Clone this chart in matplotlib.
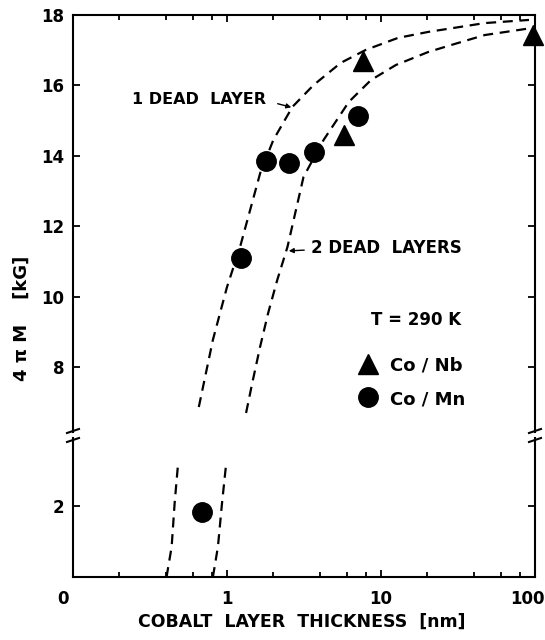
import matplotlib
matplotlib.use("Agg")
import matplotlib.pyplot as plt
import matplotlib.transforms as mtransforms
from matplotlib.lines import Line2D
from matplotlib.patches import FancyArrowPatch
from matplotlib.ticker import FixedLocator, NullFormatter

plt.rcParams['font.family'] = ['DejaVu Sans']
plt.rcParams['font.weight'] = 'bold'

# ---- data ----
mn_x = [0.687, 1.23, 1.80, 2.54, 3.65, 7.08]
mn_y = [1.83, 11.10, 13.85, 13.80, 14.11, 15.13]

nb_x = [5.73, 7.6, 97.0]
nb_y = [14.60, 16.70, 17.42]

# "1 dead layer" curve: lower-section and upper-section pieces
c1_lo_x = [0.405, 0.437, 0.457, 0.479]
c1_lo_y = [0.0, 0.85, 2.08, 3.10]
c1_up_x = [0.656, 0.810, 1.0, 1.216, 1.643, 2.0, 2.66, 3.65, 5.48, 7.98, 12.9,
           20.3, 47.1, 91.4]
c1_up_y = [6.86, 8.77, 10.27, 11.41, 13.51, 14.45, 15.39, 16.01, 16.64, 17.01,
           17.35, 17.52, 17.77, 17.86]
# "2 dead layers" curve
c2_lo_x = [0.810, 0.873, 0.928, 0.985]
c2_lo_y = [0.0, 0.85, 2.08, 3.15]
c2_up_x = [1.33, 1.46, 1.64, 1.85, 2.12, 2.47, 3.14, 4.24, 6.18, 8.60, 12.5,
           20.3, 28.7, 47.1, 95.5]
c2_up_y = [6.69, 7.55, 8.57, 9.53, 10.47, 11.41, 13.40, 14.45, 15.53, 16.15,
           16.58, 16.95, 17.15, 17.43, 17.63]

upper_yticks = [8, 10, 12, 14, 16, 18]
lower_yticks = [2]
x_major = [0.1, 1, 10, 100]
x_labels = ['0', '1', '10', '100']
x_minor = [0.2, 0.4, 0.6, 0.8, 2, 4, 6, 8, 20, 40, 60, 80]

W, H = 545, 640
fig = plt.figure(figsize=(W / 100, H / 100), dpi=100)

def fx(px):
    return px / W

def fy(py):
    return 1 - py / H

left, right = 73, 535
ax_up = fig.add_axes([fx(left), fy(432), fx(right) - fx(left), fy(15) - fy(432)])
ax_lo = fig.add_axes([fx(left), fy(577), fx(right) - fx(left), fy(438) - fy(577)])

Y_UP = (6.15, 18.0)
Y_LO = (0.0, 3.92)

dash = dict(color='black', lw=1.6, ls=(0, (4.5, 3)))

ax_up.plot(c1_up_x, c1_up_y, **dash)
ax_up.plot(c2_up_x, c2_up_y, **dash)
ax_lo.plot(c1_lo_x, c1_lo_y, **dash)
ax_lo.plot(c2_lo_x, c2_lo_y, **dash)

mn_up = [(x, y) for x, y in zip(mn_x, mn_y) if y > Y_UP[0]]
mn_lo = [(x, y) for x, y in zip(mn_x, mn_y) if y < Y_LO[1]]
ax_up.plot([p[0] for p in mn_up], [p[1] for p in mn_up], 'o', color='black', ms=14, ls='none')
ax_lo.plot([p[0] for p in mn_lo], [p[1] for p in mn_lo], 'o', color='black', ms=14, ls='none')
ax_up.plot(nb_x, nb_y, '^', color='black', ms=15, ls='none', clip_on=False)

for ax, lim in ((ax_up, Y_UP), (ax_lo, Y_LO)):
    ax.set_xscale('log')
    ax.set_xlim(0.1, 100)
    ax.set_ylim(*lim)
    for s in ax.spines.values():
        s.set_linewidth(1.5)
    ax.xaxis.set_major_locator(FixedLocator(x_major))
    ax.xaxis.set_minor_locator(FixedLocator(x_minor))
    ax.xaxis.set_minor_formatter(NullFormatter())
    ax.tick_params(which='both', direction='in', width=1.3)
    ax.tick_params(which='major', length=5)
    ax.tick_params(which='minor', length=3.5)

ax_up.spines['bottom'].set_visible(False)
ax_lo.spines['top'].set_visible(False)

ax_up.set_yticks(upper_yticks)
ax_up.set_yticklabels([str(v) for v in upper_yticks])
ax_up.tick_params(axis='x', which='both', bottom=False, top=True, labelbottom=False)
ax_up.tick_params(axis='y', left=True, right=True, labelsize=12, pad=6)

ax_lo.set_yticks(lower_yticks)
ax_lo.set_yticklabels([str(v) for v in lower_yticks])
ax_lo.tick_params(axis='y', left=True, right=True, labelsize=12, pad=6)
ax_lo.tick_params(axis='x', which='both', bottom=True, top=False, labelsize=12, pad=9)
ax_lo.set_xticklabels(x_labels)
lbls = ax_lo.get_xticklabels()
lbls[0].set_transform(lbls[0].get_transform() +
                      mtransforms.ScaledTranslation(-10 / 100, 0, fig.dpi_scale_trans))
lbls[-1].set_transform(lbls[-1].get_transform() +
                       mtransforms.ScaledTranslation(-8 / 100, 0, fig.dpi_scale_trans))

# axis titles
fig.text(fx(302), fy(622), 'COBALT  LAYER  THICKNESS  [nm]', ha='center', va='center',
         fontsize=12.5, fontweight='bold')
fig.text(fx(22), fy(318), '4 π M    [kG]', ha='center', va='center', rotation=90,
         fontsize=13, fontweight='bold')

# annotations
fig.text(fx(132), fy(100), '1 DEAD  LAYER', ha='left', va='center', fontsize=11.5, fontweight='bold')
fig.text(fx(311), fy(248), '2 DEAD  LAYERS', ha='left', va='center', fontsize=12, fontweight='bold')
fig.add_artist(FancyArrowPatch((fx(275), fy(103)), (fx(294), fy(108)),
               transform=fig.transFigure, arrowstyle='-|>', mutation_scale=7, lw=1, color='black'))
fig.add_artist(FancyArrowPatch((fx(307), fy(250)), (fx(286), fy(251)),
               transform=fig.transFigure, arrowstyle='-|>', mutation_scale=7, lw=1, color='black'))

fig.text(fx(416), fy(320), 'T = 290 K', ha='center', va='center', fontsize=12, fontweight='bold')
fig.add_artist(Line2D([fx(368)], [fy(364)], marker='^', ms=15, color='black', transform=fig.transFigure))
fig.add_artist(Line2D([fx(368)], [fy(397)], marker='o', ms=14, color='black', transform=fig.transFigure))
fig.text(fx(390), fy(366), 'Co / Nb', ha='left', va='center', fontsize=13, fontweight='bold')
fig.text(fx(390), fy(399), 'Co / Mn', ha='left', va='center', fontsize=13, fontweight='bold')

# axis break marks
for xc in (left, right):
    for yc in (431, 440):
        fig.add_artist(Line2D([fx(xc - 6), fx(xc + 6)], [fy(yc + 2), fy(yc - 2)],
                              transform=fig.transFigure, color='black', lw=1.5))

fig.savefig('out.png', dpi=100)
